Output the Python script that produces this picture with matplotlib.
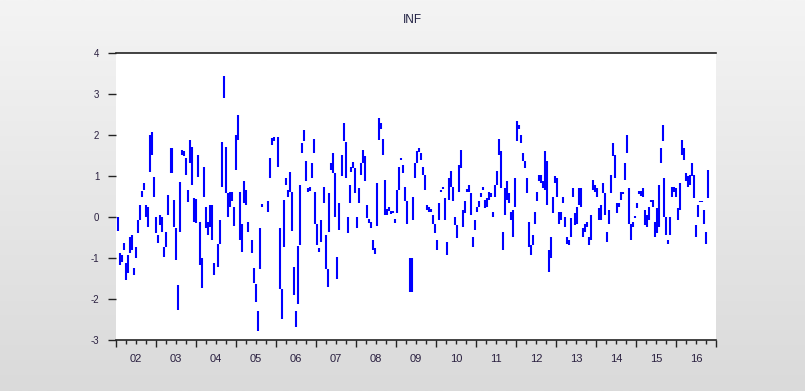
import matplotlib.pyplot as plt
import numpy as np

# INF series: time (decimal year), top and bottom of each visible stroke
t = [2002.05, 2002.11, 2002.15, 2002.21, 2002.26, 2002.31, 2002.36, 2002.41, 2002.46, 2002.50,
     2002.56, 2002.61, 2002.66, 2002.71, 2002.76, 2002.80, 2002.86, 2002.91, 2002.96, 2003.00,
     2003.06, 2003.11, 2003.15, 2003.21, 2003.26, 2003.31, 2003.37, 2003.40, 2003.46, 2003.51,
     2003.56, 2003.61, 2003.66, 2003.70, 2003.75, 2003.80, 2003.86, 2003.90, 2003.96, 2004.00,
     2004.06, 2004.11, 2004.15, 2004.20, 2004.26, 2004.30, 2004.35, 2004.40, 2004.46,
     2004.54, 2004.59, 2004.64, 2004.70, 2004.74, 2004.79, 2004.84, 2004.89, 2004.94, 2004.99,
     2005.05, 2005.11, 2005.15, 2005.20, 2005.25, 2005.30, 2005.40, 2005.45, 2005.49, 2005.55,
     2005.61, 2005.65, 2005.79, 2005.85, 2005.90, 2005.95, 2006.04, 2006.09, 2006.15, 2006.20,
     2006.24, 2006.30, 2006.34, 2006.39, 2006.44, 2006.49, 2006.55, 2006.59, 2006.64, 2006.69,
     2006.74, 2006.79, 2006.84, 2006.89, 2006.94, 2006.98,
     2007.03, 2007.08, 2007.13, 2007.19, 2007.24, 2007.29, 2007.33, 2007.38, 2007.43, 2007.48,
     2007.53, 2007.58, 2007.64, 2007.69, 2007.74, 2007.79, 2007.84, 2007.88, 2007.93, 2007.98,
     2008.03, 2008.08, 2008.13, 2008.18, 2008.23, 2008.28, 2008.33, 2008.38, 2008.43, 2008.48,
     2008.53, 2008.58, 2008.63, 2008.68, 2008.73, 2008.78, 2008.83, 2008.88, 2008.93, 2008.98,
     2009.03, 2009.08, 2009.13, 2009.18, 2009.23, 2009.28, 2009.36, 2009.39, 2009.43, 2009.48,
     2009.53, 2009.58, 2009.63, 2009.68, 2009.73, 2009.78, 2009.83, 2009.88, 2009.93, 2009.98,
     2010.03, 2010.08, 2010.13, 2010.18, 2010.23, 2010.28, 2010.33, 2010.37, 2010.42, 2010.48,
     2010.53, 2010.58, 2010.63, 2010.68, 2010.73, 2010.78, 2010.83, 2010.88, 2010.93, 2010.98,
     2011.03, 2011.08, 2011.13, 2011.18, 2011.23, 2011.28, 2011.33, 2011.38, 2011.43, 2011.48,
     2011.53, 2011.58, 2011.63, 2011.68, 2011.73, 2011.78, 2011.83, 2011.88, 2011.92, 2011.97,
     2012.02, 2012.07, 2012.13, 2012.17, 2012.22, 2012.27, 2012.32, 2012.37, 2012.42, 2012.47,
     2012.52, 2012.57, 2012.62, 2012.67, 2012.72, 2012.77, 2012.82, 2012.87, 2012.92, 2012.97,
     2013.02, 2013.07, 2013.12, 2013.17, 2013.22, 2013.27, 2013.32, 2013.37, 2013.42, 2013.47,
     2013.52, 2013.57, 2013.62, 2013.67, 2013.72, 2013.77, 2013.82, 2013.87, 2013.92, 2013.97,
     2014.02, 2014.07, 2014.12, 2014.17, 2014.22, 2014.27, 2014.32, 2014.37, 2014.42, 2014.47,
     2014.53, 2014.58, 2014.63, 2014.68, 2014.72, 2014.77, 2014.82, 2014.87, 2014.92, 2014.97,
     2015.02, 2015.07, 2015.12, 2015.17, 2015.22, 2015.27, 2015.32, 2015.37, 2015.42, 2015.47,
     2015.52, 2015.57, 2015.62, 2015.67, 2015.71, 2015.76, 2015.81, 2015.86, 2015.91, 2015.96,
     2016.01, 2016.06, 2016.11, 2016.16, 2016.20, 2016.25, 2016.30, 2016.35, 2016.40, 2016.45,
     2016.50, 2016.55, 2016.60, 2016.65, 2016.70, 2016.75, 2016.81]

inf_hi = [0.00, -0.88, -0.92, -0.64, -1.13, -0.93, -0.49, -0.44, -1.25, -0.73,
          -0.07, 0.29, 0.64, 0.83, 0.29, 0.24, 2.00, 2.08, 0.98, 0.00,
          -0.44, 0.05, 0.00, -0.73, -0.37, 0.54, 1.69, 1.69, 0.42, -0.27,
          -1.67, 0.86, 1.64, 1.62, 1.45, 0.66, 1.89, 1.71, 0.47, 0.45,
          1.52, -0.12, -1.00, 1.23, 0.24, -0.12, 0.29, 0.29, -1.13,
          -0.65, -0.07, 1.82, 3.44, 1.71, 0.58, 0.62, 0.60, 0.25, 2.00,
          2.50, 0.62, -0.16, 0.89, 0.66, -0.11, -0.56, -1.24, -1.64, -2.30,
          -0.28, 0.32, 0.38, 1.44, 1.93, 1.95, 1.95, -0.28, -1.75, 0.42,
          0.95, 0.66, 1.09, 0.62, -1.23, -2.30, -0.71, 0.78, 1.81, 2.11,
          1.36, 0.70, 0.72, 1.32, 1.90, 0.62,
          -0.16, -0.75, -0.07, 0.74, -0.44, -1.26, 0.58, 1.32, 1.56, 1.07,
          -0.97, 0.35, 1.52, 2.30, 1.82, 0.00, 0.78, 1.23, 1.35, 1.19,
          0.00, 0.70, 1.32, 1.64, 1.48, 0.29, -0.05, -0.11, -0.56, -0.75,
          0.83, 2.42, 2.30, 1.90, 0.91, 0.20, 0.25, 0.15, 0.15, -0.05,
          0.66, 1.23, 1.45, 1.27, 0.74, 0.38, -1.00, -1.00, 0.50, 1.32,
          1.60, 1.68, 1.56, 1.23, 1.03, 0.29, 0.25, 0.20, 0.05, -0.16,
          -0.56, 0.33, 0.66, 0.74, 0.46, -0.60, 0.95, 1.11, 0.74, 0.00,
          -0.20, 1.27, 1.63, 0.17, 0.38, 0.68, 0.78, 0.58, -0.48, -0.07,
          0.25, 0.38, 0.58, 0.74, 0.42, 0.46, 0.62, 0.58, 0.13, 0.78,
          1.11, 1.90, 1.60, -0.36, 0.70, 0.87, 0.58, 0.13, 0.17, 0.95,
          2.34, 2.25, 2.00, 1.56, 1.36, 0.95, -0.11, -0.69, -0.44, 0.11,
          0.62, 1.03, 1.03, 0.87, 1.60, 1.36, -0.81, -0.48, 0.50, 0.99,
          0.95, 0.13, 0.13, 0.50, 0.00, -0.48, -0.56, -0.03, 0.70, 0.09,
          0.25, 0.70, 0.70, -0.28, -0.16, -0.11, -0.48, 0.05, 0.91, 0.78,
          0.70, 0.21, 0.29, 0.83, 0.58, -0.36, 0.17, 1.03, 1.80, 1.52,
          0.33, 0.33, 0.62, 0.62, 1.32, 1.99, 0.70, -0.16, -0.11, 0.02,
          0.33, 0.64, 0.64, 0.70, 0.17, 0.05, 0.25, 0.42, 0.42, -0.11,
          0.21, 0.78, 1.68, 2.25, 0.95, 0.00, -0.56, 0.00, 0.74, 0.74,
          0.70, 0.21, 0.83, 1.89, 1.68, 1.07, 0.99, 1.03, 1.32, 1.03,
          -0.20, 0.29, 0.40, 0.40, 0.17, -0.36, 1.15]

inf_lo = [-0.35, -1.18, -1.10, -0.80, -1.54, -1.37, -0.88, -0.80, -1.42, -1.00,
          -0.40, -0.07, 0.49, 0.66, 0.00, -0.24, 1.10, 1.52, 0.49, -0.39,
          -0.64, -0.20, -0.37, -0.98, -0.73, 0.05, 1.08, 1.08, -0.24, -1.05,
          -2.28, -0.37, 1.52, 1.50, 1.03, 0.37, 1.32, 0.78, -0.12, -0.15,
          0.98, -1.18, -1.74, 0.49, -0.27, -0.44, -0.24, -0.56, -1.42,
          -1.22, -0.65, 0.74, 2.91, 0.58, 0.00, 0.25, 0.40, -0.22, 1.15,
          1.89, -0.56, -0.85, 0.33, 0.29, -0.36, -0.89, -1.61, -2.08, -2.79,
          -1.26, 0.24, 0.13, 0.95, 1.76, 1.85, 1.23, -1.75, -2.48, -0.73,
          0.78, 0.50, 0.62, -0.33, -1.90, -2.69, -2.13, -0.69, 1.56, 1.85,
          0.87, 0.62, 0.64, 0.95, 1.56, -0.16,
          -0.69, -0.85, -0.60, 0.33, -1.26, -1.71, -0.36, 1.15, 1.07, 0.00,
          -1.50, -0.32, 0.99, 1.85, 0.95, -0.40, 0.33, 1.10, 1.20, 0.58,
          -0.28, 0.33, 1.03, 1.32, 0.87, -0.03, -0.15, -0.28, -0.81, -0.90,
          -0.22, 1.89, 2.15, 1.52, 0.05, 0.05, 0.15, 0.07, 0.10, -0.15,
          0.09, 0.66, 1.38, 1.07, 0.38, -0.16, -1.83, -1.83, -0.07, 0.95,
          1.32, 1.58, 1.40, 1.03, 0.66, 0.17, 0.13, 0.13, -0.16, -0.40,
          -0.81, -0.07, 0.60, 0.68, -0.07, -0.93, 0.42, 0.74, 0.38, -0.20,
          -0.52, 0.62, 1.19, -0.24, 0.09, 0.60, 0.62, 0.05, -0.73, -0.32,
          0.13, 0.25, 0.50, 0.66, 0.21, 0.25, 0.42, 0.50, 0.00, 0.50,
          0.78, 1.52, 0.70, -0.81, 0.05, 0.42, 0.33, -0.07, -0.48, 0.25,
          1.85, 2.15, 1.80, 1.36, 1.19, 0.58, -0.73, -0.93, -0.69, -0.16,
          0.38, 0.87, 0.83, 0.70, 0.66, 0.29, -1.34, -1.01, 0.09, 0.83,
          0.50, -0.16, -0.07, 0.33, -0.24, -0.65, -0.69, -0.48, 0.50, -0.20,
          -0.16, 0.29, 0.25, -0.48, -0.36, -0.24, -0.69, -0.56, 0.66, 0.62,
          0.50, -0.07, -0.07, 0.58, 0.05, -0.60, -0.16, 0.58, 1.48, 0.95,
          0.09, 0.25, 0.42, 0.55, 0.91, 1.56, -0.16, -0.56, -0.24, -0.03,
          0.21, 0.56, 0.52, 0.50, -0.20, -0.24, -0.07, 0.36, 0.25, -0.48,
          -0.40, -0.24, 1.32, 1.85, 0.00, -0.44, -0.66, -0.44, 0.50, 0.62,
          0.50, -0.07, 0.17, 1.52, 1.40, 0.87, 0.74, 0.78, 0.99, 0.46,
          -0.48, 0.00, 0.36, 0.36, -0.16, -0.65, 0.46]

years = list(range(2002, 2017))
year_labels = ['%02d' % (y % 100) for y in years]

fig = plt.figure(figsize=(8.05, 3.91), dpi=100)
plt.rcParams['font.family'] = ['Liberation Sans', 'DejaVu Sans']

# gray gradient background like the EViews window
bg = fig.add_axes([0, 0, 1, 1], zorder=-10)
grad = np.linspace(0, 1, 256).reshape(-1, 1)
bg.imshow(grad, cmap=plt.matplotlib.colors.LinearSegmentedColormap.from_list(
    'bg', ['#f4f4f4', '#dadada']), aspect='auto', extent=[0, 1, 0, 1], origin='upper')
bg.set_axis_off()

ax = fig.add_axes([116 / 805, 1 - 340 / 391, 600 / 805, 287 / 391])
ax.set_facecolor('white')

ax.vlines(t, inf_lo, inf_hi, color='#0000ff', lw=1.5)

ax.set_xlim(2002, 2017)
ax.set_ylim(-3, 4)

ax.spines['left'].set_visible(False)
ax.spines['right'].set_visible(False)
ax.spines['top'].set_color('#222222')
ax.spines['bottom'].set_color('#222222')
ax.spines['top'].set_linewidth(1.2)
ax.spines['bottom'].set_linewidth(1.2)

ax.set_yticks(range(-3, 5))
ax.set_yticklabels([str(v) for v in range(-3, 5)], fontsize=7, color='#2a2040')
ax.tick_params(axis='y', direction='out', length=6, width=1, pad=6, color='#222222')

ax.set_xticks(years + [2017])
ax.set_xticklabels([])
ax.set_xticks(np.arange(2002, 2017, 0.25), minor=True)
ax.tick_params(axis='x', which='major', direction='out', length=5, width=1, color='#222222')
ax.tick_params(axis='x', which='minor', direction='out', length=3, width=1, color='#222222')

for y, lab in zip(years, year_labels):
    ax.annotate(lab, xy=(y + 0.5, 0), xycoords=('data', 'axes fraction'),
                xytext=(0, -10), textcoords='offset points',
                ha='center', va='top', fontsize=8, color='#2a2040')

fig.text(412 / 805, 1 - 20 / 391, 'INF', ha='center', va='center', fontsize=8.5, color='#222244')

fig.savefig('out.png', dpi=100)
